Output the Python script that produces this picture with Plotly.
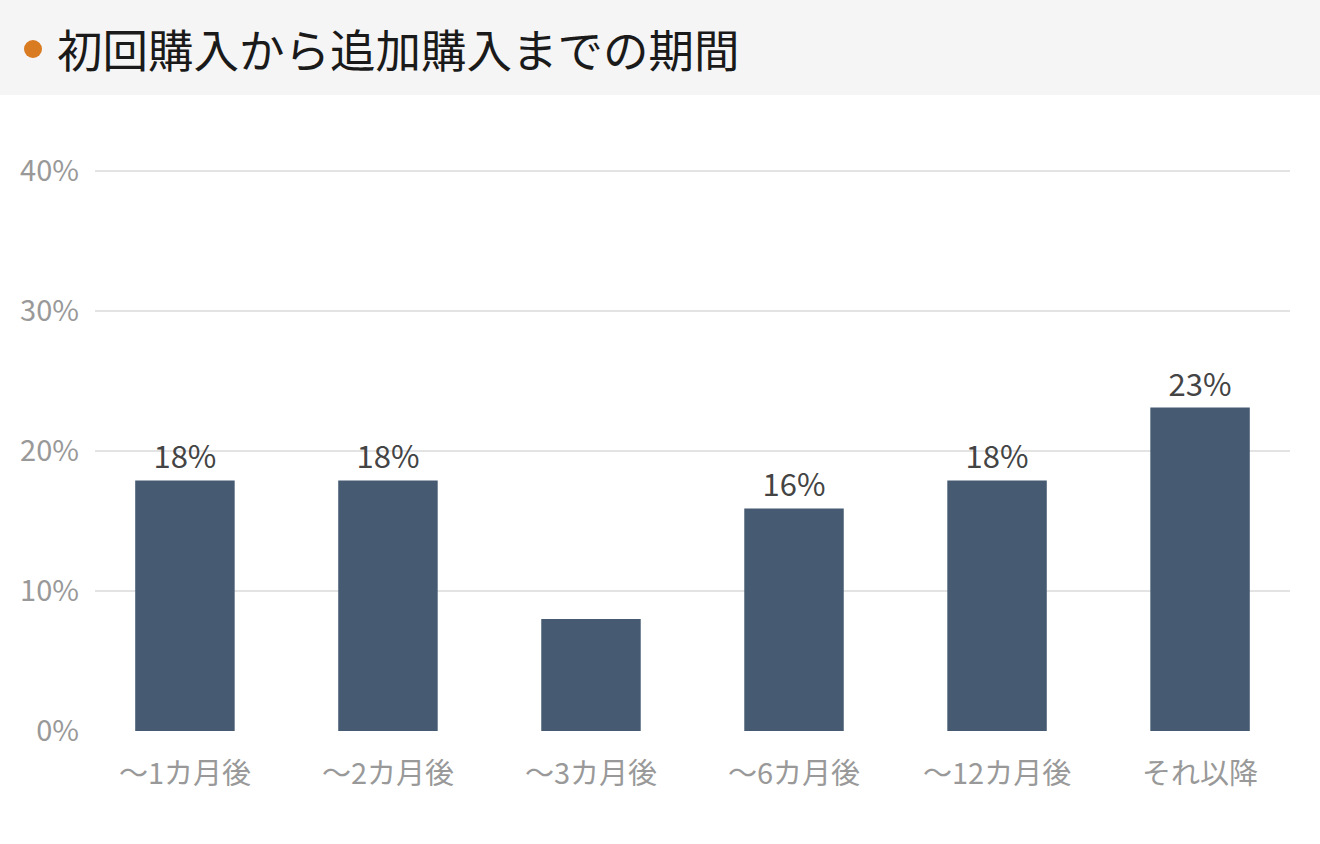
import plotly.graph_objects as go

# datos
categorias = ["〜1カ月後", "〜2カ月後", "〜3カ月後", "〜6カ月後", "〜12カ月後", "それ以降"]
valores = [17.9, 17.9, 8.0, 15.9, 17.9, 23.1]
etiquetas = ["18%", "18%", "", "16%", "18%", "23%"]
ticks_y = [0, 10, 20, 30, 40]
ticks_y_texto = ["0%", "10%", "20%", "30%", "40%"]

titulo = "初回購入から追加購入までの期間"
fuente = "Noto Sans CJK JP"

W, H = 1320, 844
ml, mr, mt, mb = 95, 30, 165, 113
pw = W - ml - mr
ph = H - mt - mb
# 40% debe caer en y=171 px (14 px por punto)
y_max = 40 + (171 - mt) / 14

def px_x(px):
    return (px - ml) / pw

def px_y(py):
    return (H - mb - py) / ph

fig = go.Figure(data=go.Bar(
    x=categorias, y=valores,
    text=etiquetas, textposition="outside",
    textfont=dict(size=31, color="#444444", family=fuente),
    marker=dict(color="#465b72", line=dict(width=0)),
    width=0.49, cliponaxis=False, hoverinfo="skip"))

# barra gris del titulo y punto naranja
fig.add_shape(type="rect", xref="paper", yref="paper",
              x0=px_x(0), x1=px_x(W), y0=px_y(95), y1=px_y(0),
              fillcolor="#f5f5f5", line=dict(width=0), layer="below")
fig.add_shape(type="circle", xref="paper", yref="paper",
              x0=px_x(24), x1=px_x(42), y0=px_y(58), y1=px_y(40),
              fillcolor="#d97b20", line=dict(width=0))

fig.update_layout(
    width=W, height=H,
    margin=dict(l=ml, r=mr, t=mt, b=mb),
    paper_bgcolor="white", plot_bgcolor="white",
    title=dict(text=titulo, x=57 / W, xanchor="left", y=1 - 52 / H, yanchor="middle",
               font=dict(size=45.5, color="#1a1a1a", family=fuente)),
    showlegend=False,
    font=dict(family=fuente),
    xaxis=dict(range=[-0.443, 5.443], showgrid=False, zeroline=False, showline=False,
               tickfont=dict(size=29, color="#999999", family=fuente), ticks="",
               ticklabelstandoff=23),
    yaxis=dict(range=[0, y_max], tickvals=ticks_y, ticktext=ticks_y_texto,
               showgrid=True, gridcolor="#e3e3e3", gridwidth=1.5, zeroline=False,
               tickfont=dict(size=29, color="#999999", family=fuente), ticks="",
               ticklabelstandoff=15),
)

# quitar el margen del body para que la figura empiece en (0,0)
fig.write_html("out.html", config={"displayModeBar": False},
               post_script="document.body.style.margin='0';")
